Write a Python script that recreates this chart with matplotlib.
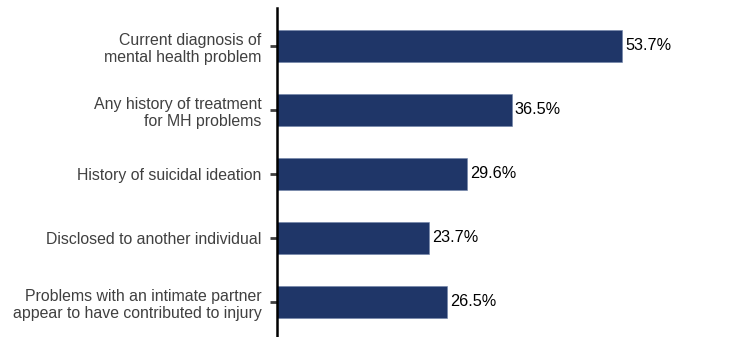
import matplotlib.pyplot as plt

plt.rcParams['font.family'] = ['Liberation Sans', 'DejaVu Sans']

# данные
categories = [
    'Current diagnosis of\nmental health problem',
    'Any history of treatment\nfor MH problems',
    'History of suicidal ideation',
    'Disclosed to another individual',
    'Problems with an intimate partner\nappear to have contributed to injury',
]
values = [53.7, 36.5, 29.6, 23.7, 26.5]
value_labels = ['53.7%', '36.5%', '29.6%', '23.7%', '26.5%']

W, H = 737, 337
fig = plt.figure(figsize=(W / 100, H / 100), dpi=100)
x0 = 277 / W
ax = fig.add_axes([x0, 0, 450 / W, 1 - 8 / H])

pos = list(range(len(categories)))
ax.barh(pos, values, height=0.5, color='#1F3668', edgecolor='#6f82a8', linewidth=0.4)
for p, v, lab in zip(pos, values, value_labels):
    ax.text(v + 0.45, p, lab, va='center', ha='left', fontsize=11.7, color='black')

ax.set_xlim(0, 70)
ax.set_ylim(4 + 35 / 64, -38 / 64)
ax.set_yticks(pos)
ax.set_yticklabels(categories, fontsize=11.4, color='#404040', linespacing=1.2)
ax.tick_params(axis='y', length=5, width=2, color='#404040', pad=6)
ax.set_xticks([])
for s in ['top', 'right', 'bottom']:
    ax.spines[s].set_visible(False)
ax.spines['left'].set_linewidth(1.8)
ax.spines['left'].set_color('black')

fig.savefig('out.png', dpi=100)
